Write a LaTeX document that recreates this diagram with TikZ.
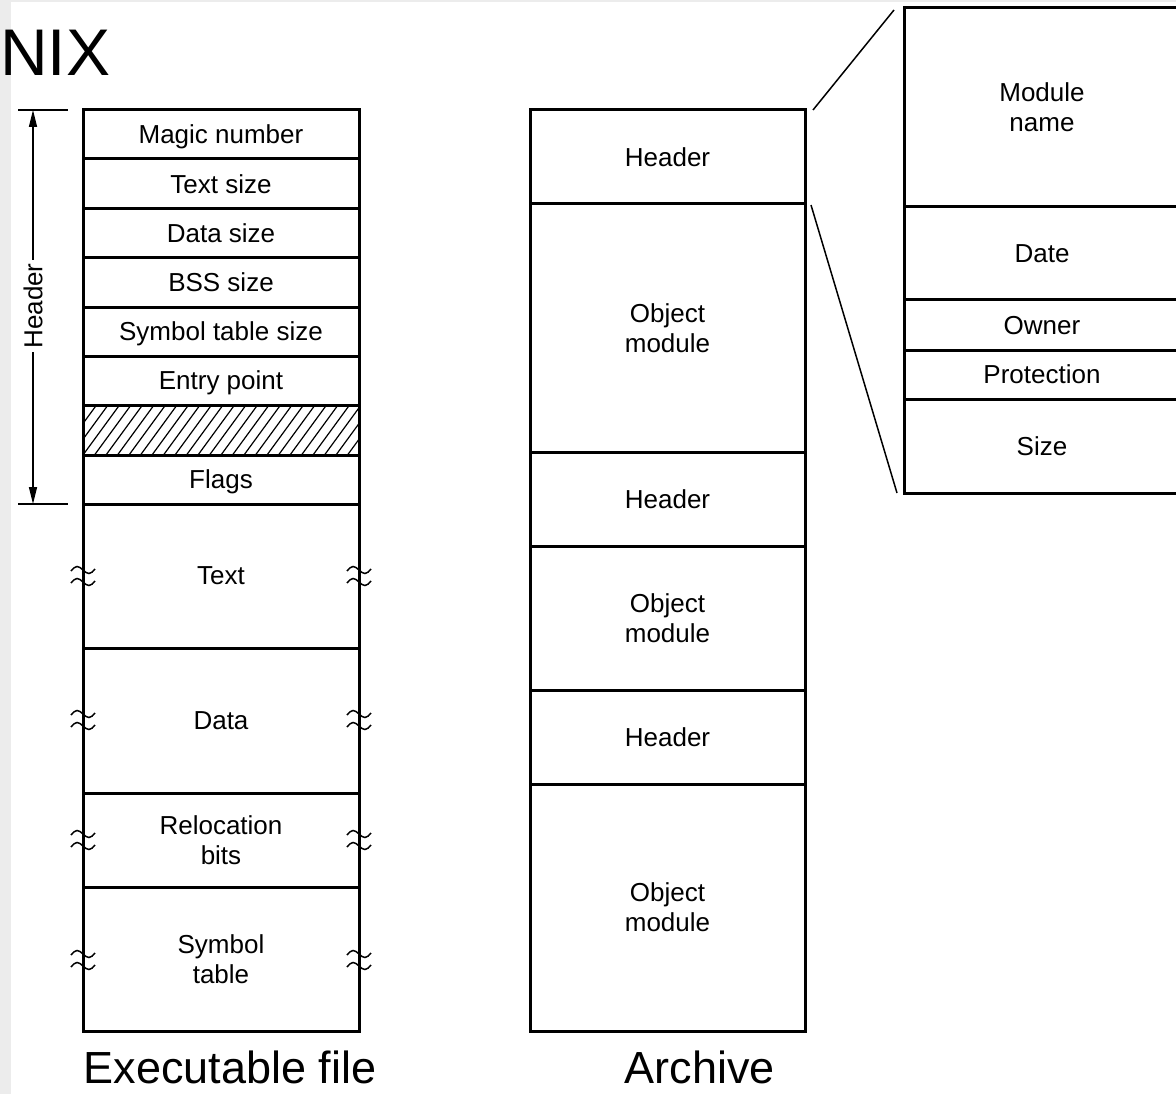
\documentclass[tikz,border=0pt]{standalone}
\usepackage{fontspec}
\setmainfont{Liberation Sans}
\usetikzlibrary{arrows.meta}
\newcommand\cellfont{\fontsize{26}{30}\selectfont}
\newcommand\capfont{\fontsize{45}{50}\selectfont}
\newcommand\titlefont{\fontsize{66}{70}\selectfont}

\begin{document}
\begin{tikzpicture}[x=1pt,y=-1pt,
  cell/.style={draw, line width=3pt, outer sep=0pt, inner sep=0pt, text depth=0pt,
    minimum width=276pt, align=center, font=\cellfont},
  thinline/.style={line width=1.5pt},
  dimtip/.tip={Triangle[length=17pt,width=8pt]},
  brk/.pic={
    \foreach \c in {-6,6}
      \draw[line width=1.5pt] (-12,\c+1) sin (-6,\c-3.5) cos (0,\c) sin (6,\c+3.5) cos (12,\c-1);
  }]
\useasboundingbox (0,0) rectangle (1176,1094);
\clip (0,0) rectangle (1176,1094);

% page edge shading
\fill[gray!15] (0,0) rectangle (11,1094);
\fill[gray!15] (0,0) rectangle (1176,2);

% heading
\node[anchor=base west, inner sep=0pt, font=\titlefont] (title) at (0,76) {NIX};

% executable file layout
\node[cell, minimum height=49pt] (magic)   at (221,134.5) {Magic number};
\node[cell, minimum height=50pt] (tsize)   at (221,184)   {Text size};
\node[cell, minimum height=49pt] (dsize)   at (221,233.5) {Data size};
\node[cell, minimum height=49pt] (bss)     at (221,282.5) {BSS size};
\node[cell, minimum height=49pt] (symsize) at (221,331.5) {Symbol table size};
\node[cell, minimum height=49pt] (entry)   at (221,380.5) {Entry point};
\node[cell, minimum height=50pt,
  path picture={\foreach \k in {-5,...,25}
    \draw[line width=1.2pt] ([xshift=\k*11.5pt]path picture bounding box.south west) -- ++(38pt,52pt);}]
  (pad) at (221,430) {};
\node[cell, minimum height=49pt]  (flags)  at (221,479.5) {Flags};
\node[cell, minimum height=144pt] (text)   at (221,576)   {Text};
\node[cell, minimum height=145pt] (data)   at (221,720.5) {Data};
\node[cell, minimum height=94pt]  (reloc)  at (221,840)   {Relocation\\bits};
\node[cell, minimum height=144pt] (symtab) at (221,959)   {Symbol\\table};

% break marks on the variable-length sections
\foreach \yy in {576,720,840,960} {
  \pic at (83,\yy) {brk};
  \pic at (359,\yy) {brk};
}

% header extent
\coordinate (tickTL) at (18,110);
\coordinate (tickTR) at (68,110);
\coordinate (tickBL) at (18,504);
\coordinate (tickBR) at (68,504);
\coordinate (dimT) at (33,110);
\coordinate (dimB) at (33,504);
\draw[thinline] (tickTL) -- (tickTR);
\draw[thinline] (tickBL) -- (tickBR);
\draw[thinline, dimtip-dimtip] (dimT) -- (dimB);
\node[rotate=90, fill=white, inner xsep=3pt, inner ysep=1pt, font=\cellfont] (hlabel) at (33,306) {Header};

% archive layout
\node[cell, minimum width=275pt, minimum height=94pt]  (hdr1) at (667.5,157)   {Header};
\node[cell, minimum width=275pt, minimum height=248pt] (obj1) at (667.5,328)   {Object\\module};
\node[cell, minimum width=275pt, minimum height=94pt]  (hdr2) at (667.5,499)   {Header};
\node[cell, minimum width=275pt, minimum height=144pt] (obj2) at (667.5,618)   {Object\\module};
\node[cell, minimum width=275pt, minimum height=94pt]  (hdr3) at (667.5,737)   {Header};
\node[cell, minimum width=275pt, minimum height=247pt] (obj3) at (667.5,907.5) {Object\\module};

% archive member header detail
\node[cell, minimum height=199pt] (mname) at (1042,107.5) {Module\\name};
\node[cell, minimum height=93pt]  (date)  at (1042,253.5) {Date};
\node[cell, minimum height=50pt]  (owner) at (1042,325)   {Owner};
\node[cell, minimum height=49pt]  (prot)  at (1042,374.5) {Protection};
\node[cell, minimum height=94pt]  (size)  at (1042,446)   {Size};

% expansion lines
\draw[thinline] ([xshift=8pt]hdr1.north east) -- ([xshift=-10pt,yshift=-2pt]mname.north west);
\draw[thinline] ([xshift=6pt,yshift=-1pt]hdr1.south east) -- ([xshift=-7pt]size.south west);

% captions
\node[anchor=base, font=\capfont] (exelabel) at (230,1083) {Executable file};
\node[anchor=base, font=\capfont] (arclabel) at (700,1083) {Archive};
\end{tikzpicture}
\end{document}
